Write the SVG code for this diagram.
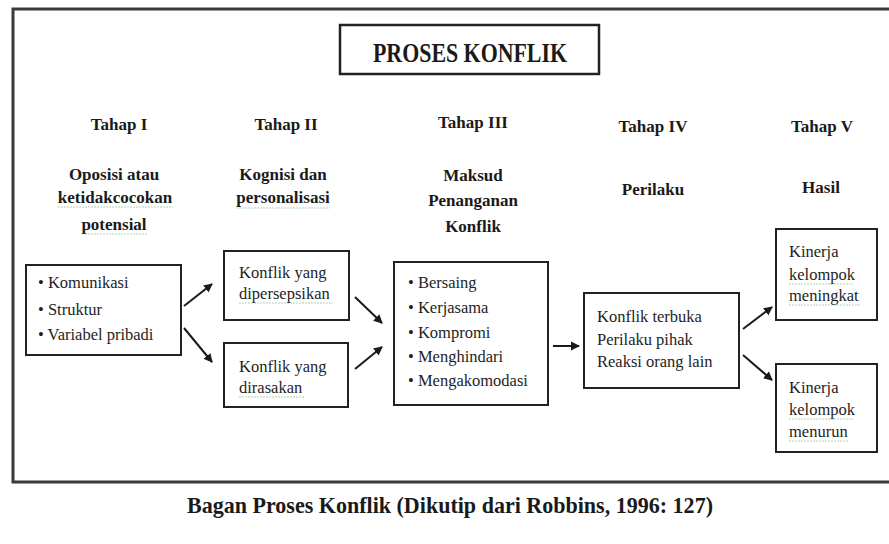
<svg xmlns="http://www.w3.org/2000/svg" width="889" height="544" viewBox="0 0 889 544">
  <style>
    .frame { fill: none; stroke: #3a3a3a; stroke-width: 3; }
    .box { fill: #ffffff; stroke: #222222; stroke-width: 2; }
    .title { fill: #1a1a1a; }
    .head { fill: #1a1a1a; text-anchor: middle; }
    .body { fill: #1e1e1e; }
    .wire { stroke: #1a1a1a; stroke-width: 2; fill: none; marker-end: url(#arrow); }
    .squiggle { stroke: #8cbf8c; stroke-width: 1; stroke-dasharray: 2 1; opacity: 0.7; fill: none; }
  </style>
  <defs>
    <marker id="arrow" markerWidth="10" markerHeight="10" refX="8" refY="5" orient="auto" markerUnits="userSpaceOnUse">
      <path d="M0,0.5 L9,5 L0,9.5 Z" fill="#1a1a1a"/>
    </marker>
  </defs>

  <rect width="889" height="544" fill="#ffffff"/>
  <!-- outer frame, right side runs past the canvas edge -->
  <rect class="frame" x="13" y="9" width="890" height="473"/>

  <g id="title">
    <rect class="box" x="340" y="25" width="259" height="49" style="stroke-width:2.5"/>
    <text class="title" x="373" y="62" font-family="Liberation Serif" font-weight="bold" font-size="27" textLength="194" lengthAdjust="spacingAndGlyphs">PROSES KONFLIK</text>
  </g>

  <!-- stage headings -->
  <g id="stage1-head">
    <text class="head" x="119" y="130" font-family="Liberation Serif" font-weight="bold" font-size="17">Tahap I</text>
    <text class="head" x="114" y="180" font-family="Liberation Serif" font-weight="bold" font-size="17">Oposisi atau</text>
    <text class="head" x="115" y="203" font-family="Liberation Serif" font-weight="bold" font-size="17">ketidakcocokan</text>
    <text class="head" x="114" y="230" font-family="Liberation Serif" font-weight="bold" font-size="17">potensial</text>
    <path class="squiggle" d="M58,207 H173 M82,234 H147"/>
  </g>
  <g id="stage2-head">
    <text class="head" x="286" y="130" font-family="Liberation Serif" font-weight="bold" font-size="17">Tahap II</text>
    <text class="head" x="283" y="180" font-family="Liberation Serif" font-weight="bold" font-size="17">Kognisi dan</text>
    <text class="head" x="283" y="203" font-family="Liberation Serif" font-weight="bold" font-size="17">personalisasi</text>
    <path class="squiggle" d="M236,208 H330"/>
  </g>
  <g id="stage3-head">
    <text class="head" x="473" y="128" font-family="Liberation Serif" font-weight="bold" font-size="17">Tahap III</text>
    <text class="head" x="473" y="181" font-family="Liberation Serif" font-weight="bold" font-size="17">Maksud</text>
    <text class="head" x="473" y="206" font-family="Liberation Serif" font-weight="bold" font-size="17">Penanganan</text>
    <text class="head" x="473" y="232" font-family="Liberation Serif" font-weight="bold" font-size="17">Konflik</text>
  </g>
  <g id="stage4-head">
    <text class="head" x="653" y="132" font-family="Liberation Serif" font-weight="bold" font-size="17">Tahap IV</text>
    <text class="head" x="653" y="195" font-family="Liberation Serif" font-weight="bold" font-size="17">Perilaku</text>
  </g>
  <g id="stage5-head">
    <text class="head" x="822" y="132" font-family="Liberation Serif" font-weight="bold" font-size="17">Tahap V</text>
    <text class="head" x="821" y="193" font-family="Liberation Serif" font-weight="bold" font-size="17">Hasil</text>
  </g>

  <g id="sources">
    <rect class="box" x="26" y="265" width="155" height="90"/>
    <text class="body" x="38" y="288" font-family="Liberation Serif" font-size="16.5">• Komunikasi</text>
    <text class="body" x="38" y="315" font-family="Liberation Serif" font-size="16.5">• Struktur</text>
    <text class="body" x="38" y="340" font-family="Liberation Serif" font-size="16.5">• Variabel pribadi</text>
  </g>

  <g id="perceived">
    <rect class="box" x="224" y="251" width="125" height="69"/>
    <text class="body" x="239" y="278" font-family="Liberation Serif" font-size="16.5">Konflik yang</text>
    <text class="body" x="239" y="299" font-family="Liberation Serif" font-size="16.5">dipersepsikan</text>
    <path class="squiggle" d="M239,303 H333"/>
  </g>

  <g id="felt">
    <rect class="box" x="224" y="343" width="124" height="64"/>
    <text class="body" x="239" y="372" font-family="Liberation Serif" font-size="16.5">Konflik yang</text>
    <text class="body" x="239" y="393" font-family="Liberation Serif" font-size="16.5">dirasakan</text>
    <path class="squiggle" d="M239,397 H305"/>
  </g>

  <g id="intentions">
    <rect class="box" x="394" y="262" width="154" height="143"/>
    <text class="body" x="408" y="288" font-family="Liberation Serif" font-size="16.5">• Bersaing</text>
    <text class="body" x="408" y="313" font-family="Liberation Serif" font-size="16.5">• Kerjasama</text>
    <text class="body" x="408" y="338" font-family="Liberation Serif" font-size="16.5">• Kompromi</text>
    <text class="body" x="408" y="362" font-family="Liberation Serif" font-size="16.5">• Menghindari</text>
    <text class="body" x="408" y="386" font-family="Liberation Serif" font-size="16.5">• Mengakomodasi</text>
  </g>

  <g id="behavior">
    <rect class="box" x="584" y="293" width="155" height="95"/>
    <text class="body" x="597" y="322" font-family="Liberation Serif" font-size="16.5">Konflik terbuka</text>
    <text class="body" x="597" y="345" font-family="Liberation Serif" font-size="16.5">Perilaku pihak</text>
    <text class="body" x="597" y="367" font-family="Liberation Serif" font-size="16.5">Reaksi orang lain</text>
  </g>

  <g id="outcome-up">
    <rect class="box" x="776" y="229" width="101" height="91"/>
    <text class="body" x="789" y="257" font-family="Liberation Serif" font-size="16.5">Kinerja</text>
    <text class="body" x="789" y="280" font-family="Liberation Serif" font-size="16.5">kelompok</text>
    <text class="body" x="789" y="301" font-family="Liberation Serif" font-size="16.5">meningkat</text>
    <path class="squiggle" d="M789,284 H853 M789,305 H860"/>
  </g>

  <g id="outcome-down">
    <rect class="box" x="776" y="364" width="101" height="88"/>
    <text class="body" x="789" y="393" font-family="Liberation Serif" font-size="16.5">Kinerja</text>
    <text class="body" x="789" y="415" font-family="Liberation Serif" font-size="16.5">kelompok</text>
    <text class="body" x="789" y="437" font-family="Liberation Serif" font-size="16.5">menurun</text>
    <path class="squiggle" d="M789,419 H853 M789,441 H848"/>
  </g>

  <g id="connectors">
    <line class="wire" x1="184" y1="306" x2="212" y2="284"/>
    <line class="wire" x1="184" y1="328" x2="212" y2="362"/>
    <line class="wire" x1="355" y1="297" x2="382" y2="323"/>
    <line class="wire" x1="355" y1="369" x2="382" y2="347"/>
    <line class="wire" x1="553" y1="346" x2="579" y2="346"/>
    <line class="wire" x1="743" y1="329" x2="772" y2="307"/>
    <line class="wire" x1="743" y1="355" x2="772" y2="380"/>
  </g>

  <g id="caption">
    <text class="title" x="187" y="513" font-family="Liberation Serif" font-weight="bold" font-size="24" textLength="526" lengthAdjust="spacingAndGlyphs">Bagan Proses Konflik (Dikutip  dari Robbins,  1996: 127)</text>
  </g>
</svg>
